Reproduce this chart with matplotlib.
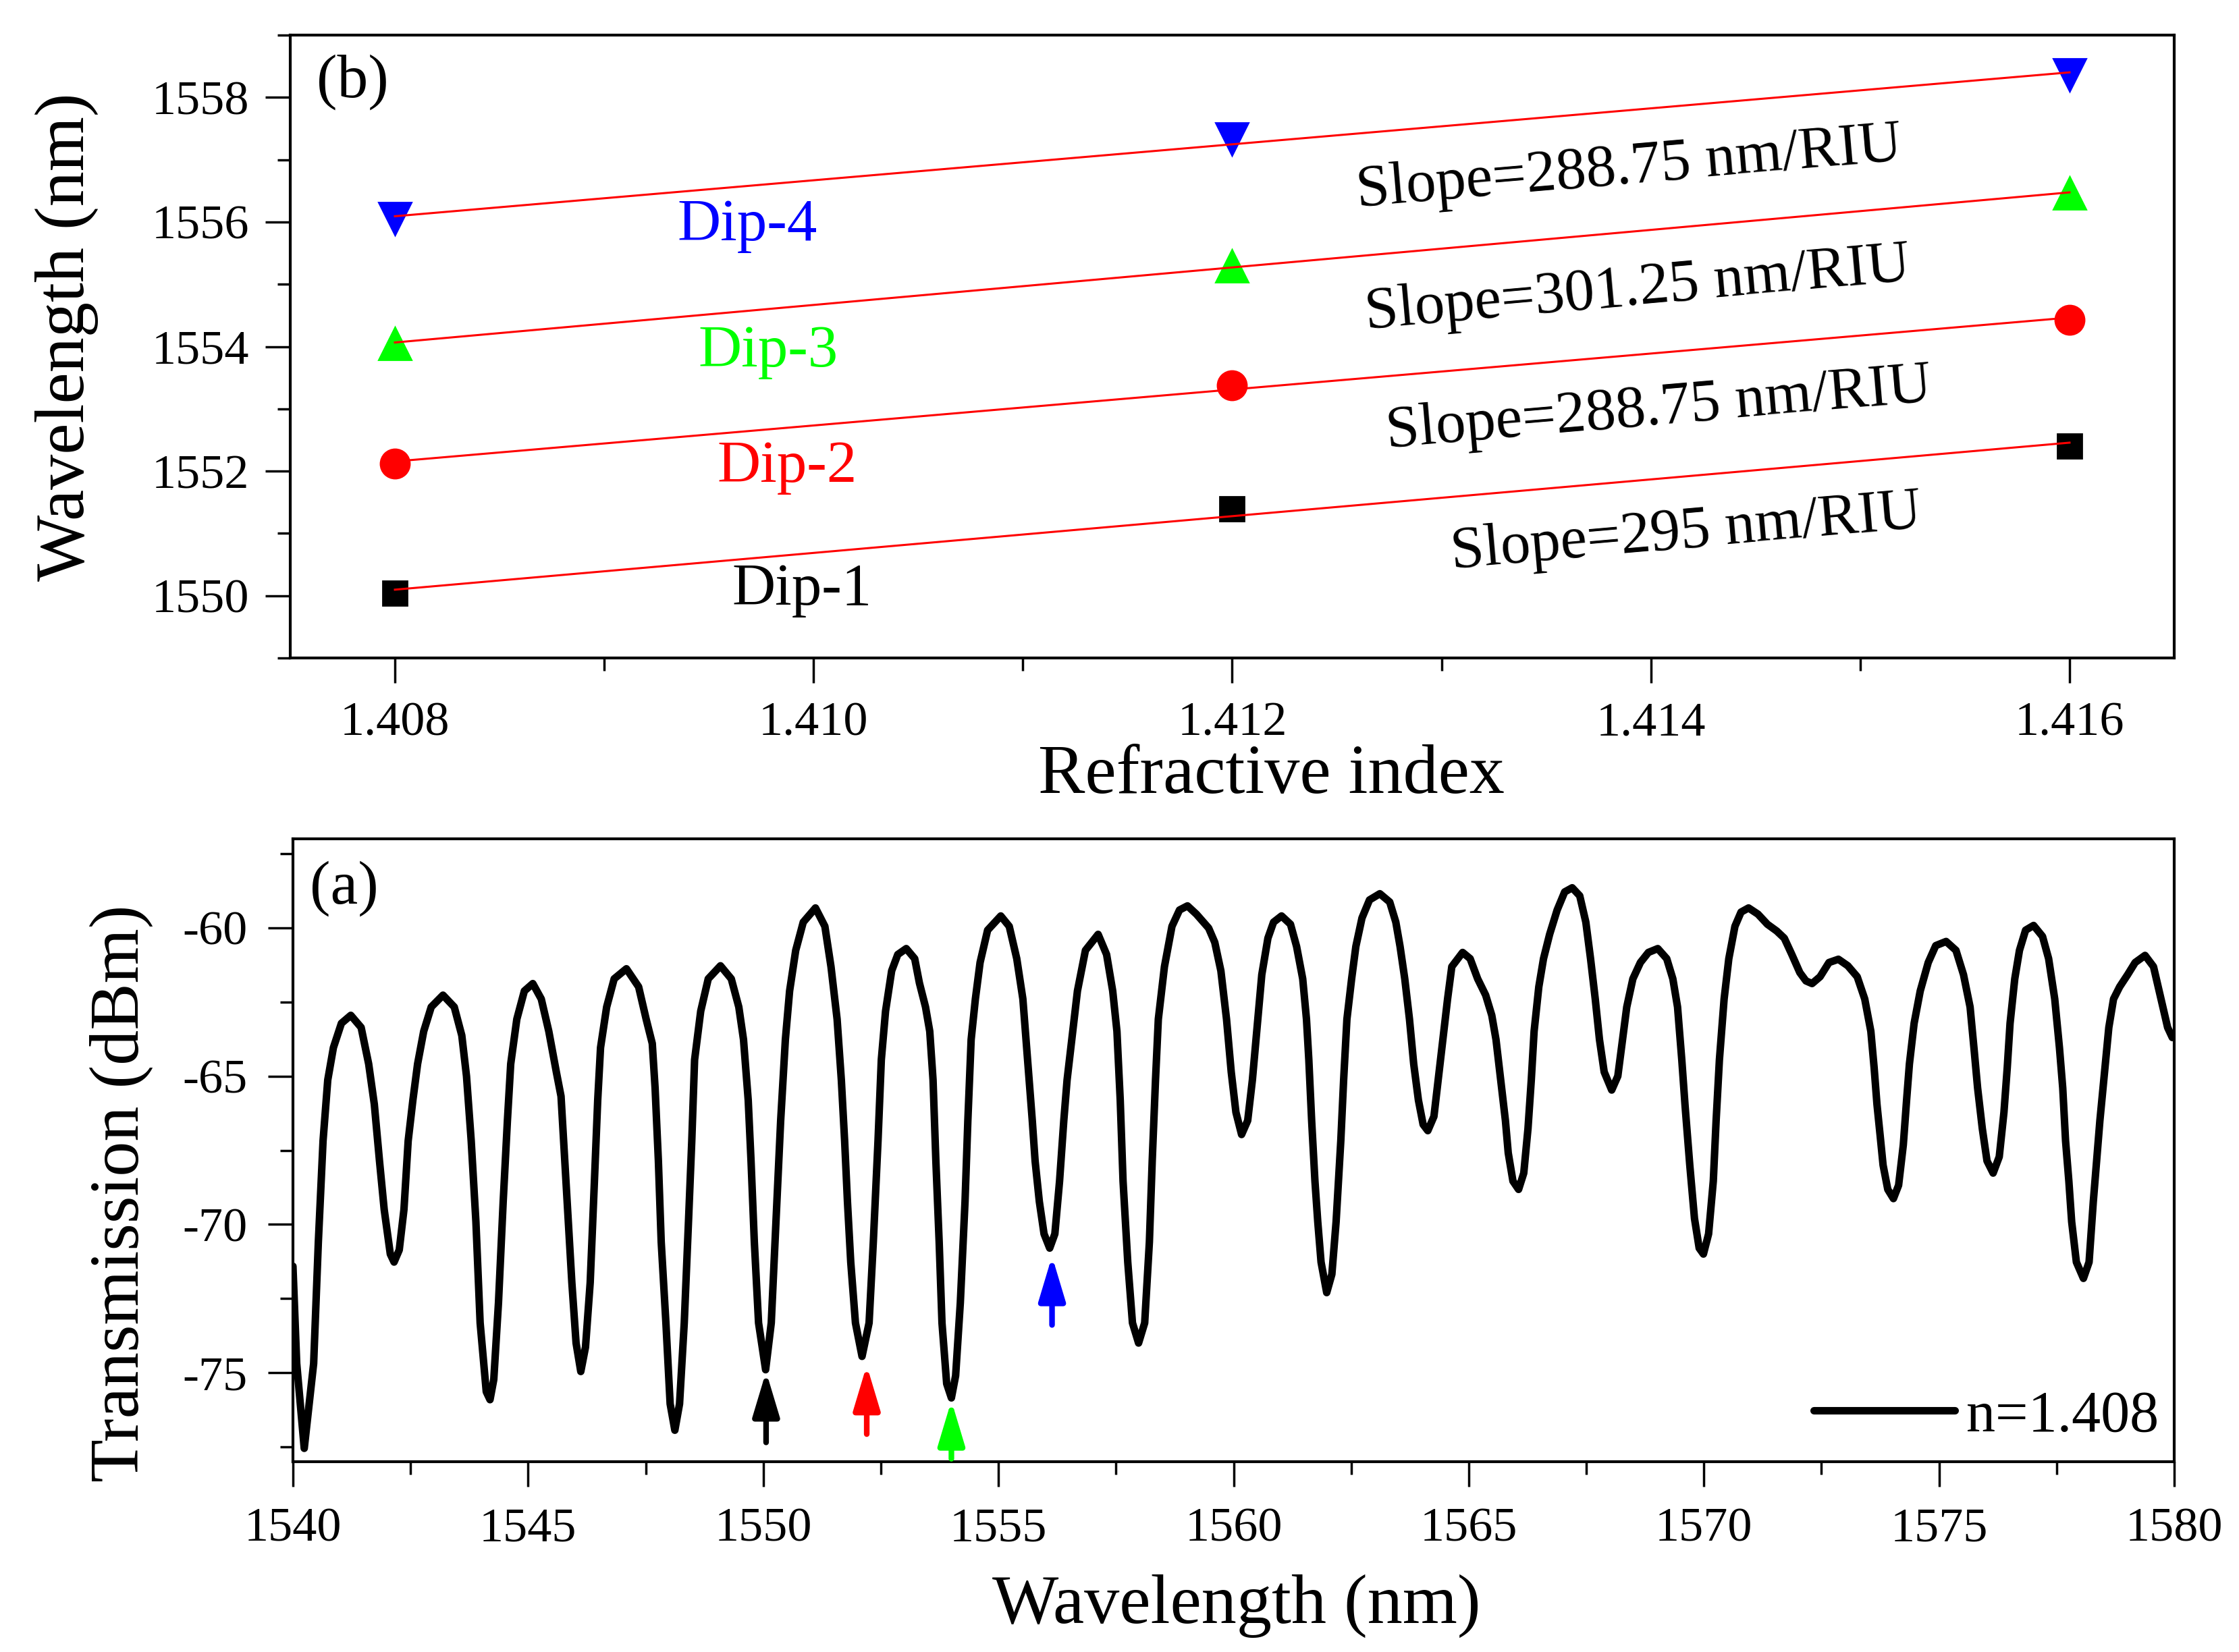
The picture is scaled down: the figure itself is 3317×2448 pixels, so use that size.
import numpy as np
import matplotlib
matplotlib.use("Agg")
import matplotlib.pyplot as plt
from matplotlib.ticker import MultipleLocator, FormatStrFormatter

plt.rcParams['font.family'] = ['Liberation Serif', 'DejaVu Serif']
plt.rcParams['axes.unicode_minus'] = False

# ---------------- data: panel (b) ----------------
ri = [1.408, 1.412, 1.416]
dip1 = [1550.04, 1551.39, 1552.40]
dip2 = [1552.12, 1553.38, 1554.43]
dip3 = [1554.05, 1555.30, 1556.46]
dip4 = [1556.05, 1557.33, 1558.36]
dip_names = ['Dip-1', 'Dip-2', 'Dip-3', 'Dip-4']
dip_colors = ['#000000', '#FF0000', '#00FF00', '#0000FF']
dip_markers = ['s', 'o', '^', 'v']
dip_msizes = [13, 15.5, 17, 17]
slope_texts = ['Slope=295 nm/RIU', 'Slope=288.75 nm/RIU',
               'Slope=301.25 nm/RIU', 'Slope=288.75 nm/RIU']
dip_label_x = [1.40961, 1.40954, 1.40945, 1.40935]
dip_label_y = [1549.86, 1551.83, 1553.68, 1555.71]
slope_label_x = [1.41305, 1.41274, 1.41264, 1.41260]
slope_label_y = [1550.44, 1552.38, 1554.29, 1556.25]

# ---------------- data: panel (a) ----------------
wl_nm = [
    1540.00, 1540.08, 1540.24, 1540.44, 1540.54, 1540.64, 1540.74, 1540.86, 1541.03, 1541.23,
    1541.45, 1541.61, 1541.73, 1541.84, 1541.94, 1542.07, 1542.15, 1542.26, 1542.36, 1542.45,
    1542.55, 1542.65, 1542.78, 1542.94, 1543.19, 1543.43, 1543.59, 1543.69, 1543.79, 1543.89,
    1543.98, 1544.11, 1544.19, 1544.27, 1544.37, 1544.47, 1544.56, 1544.63, 1544.76, 1544.92,
    1545.10, 1545.28, 1545.44, 1545.60, 1545.70, 1545.76, 1545.83, 1545.93, 1546.02, 1546.12,
    1546.22, 1546.32, 1546.41, 1546.48, 1546.54, 1546.67, 1546.83, 1547.09, 1547.35, 1547.51,
    1547.64, 1547.70, 1547.77, 1547.83, 1547.93, 1548.02, 1548.12, 1548.22, 1548.32, 1548.41,
    1548.48, 1548.54, 1548.67, 1548.83, 1549.09, 1549.32, 1549.48, 1549.58, 1549.68, 1549.74,
    1549.81, 1549.90, 1550.05,
    1550.17, 1550.27, 1550.37, 1550.47, 1550.56, 1550.69, 1550.85, 1551.11, 1551.31, 1551.44,
    1551.57, 1551.66, 1551.73, 1551.79, 1551.86, 1551.96, 1552.10, 1552.25, 1552.34, 1552.44,
    1552.51, 1552.60, 1552.73, 1552.86, 1553.04, 1553.22, 1553.32, 1553.45, 1553.54, 1553.61,
    1553.67, 1553.74, 1553.80, 1553.90, 1554.00, 1554.09, 1554.19, 1554.29, 1554.35, 1554.42,
    1554.51, 1554.61, 1554.77, 1555.05, 1555.23, 1555.39, 1555.52, 1555.62, 1555.72, 1555.78,
    1555.87, 1555.97, 1556.09, 1556.20, 1556.30, 1556.39, 1556.46, 1556.56, 1556.68, 1556.85,
    1557.12, 1557.30, 1557.43, 1557.52, 1557.59, 1557.65, 1557.75, 1557.85, 1557.98, 1558.11,
    1558.21, 1558.27, 1558.34, 1558.40, 1558.53, 1558.69, 1558.85, 1559.02, 1559.21, 1559.47,
    1559.60, 1559.73, 1559.85, 1559.95, 1560.05, 1560.17,
    1560.30, 1560.40, 1560.50, 1560.60, 1560.73, 1560.85, 1561.02, 1561.21, 1561.34, 1561.47,
    1561.55, 1561.60, 1561.66, 1561.73, 1561.79, 1561.86, 1561.98, 1562.09, 1562.18, 1562.28,
    1562.34, 1562.41, 1562.51, 1562.60, 1562.73, 1562.89, 1563.11, 1563.32, 1563.45, 1563.54,
    1563.64, 1563.74, 1563.83, 1563.93, 1564.03, 1564.13, 1564.26, 1564.35, 1564.45, 1564.55,
    1564.64, 1564.87, 1565.03, 1565.19, 1565.36, 1565.49, 1565.58, 1565.68, 1565.78, 1565.84,
    1565.94, 1566.06, 1566.17, 1566.26, 1566.33, 1566.39, 1566.49, 1566.59, 1566.72, 1566.88,
    1567.04, 1567.20, 1567.36, 1567.49, 1567.59, 1567.69, 1567.78, 1567.88, 1568.04, 1568.17,
    1568.27, 1568.36, 1568.49, 1568.65, 1568.82, 1569.02, 1569.21, 1569.34, 1569.44, 1569.53,
    1569.60, 1569.70, 1569.80, 1569.90, 1569.99,
    1570.10, 1570.20, 1570.26, 1570.33, 1570.43, 1570.53, 1570.66, 1570.79, 1570.95, 1571.15,
    1571.35, 1571.55, 1571.71, 1571.87, 1572.04, 1572.17, 1572.30, 1572.47, 1572.66, 1572.86,
    1573.06, 1573.26, 1573.42, 1573.55, 1573.62, 1573.68, 1573.75, 1573.81, 1573.91, 1574.03,
    1574.14, 1574.24, 1574.31, 1574.37, 1574.47, 1574.60, 1574.77, 1574.93, 1575.15, 1575.36,
    1575.52, 1575.66, 1575.75, 1575.82, 1575.92, 1576.02, 1576.15, 1576.28, 1576.38, 1576.45,
    1576.51, 1576.61, 1576.71, 1576.84, 1577.01, 1577.20, 1577.33, 1577.46, 1577.56, 1577.63,
    1577.69, 1577.76, 1577.82, 1577.92, 1578.07, 1578.19, 1578.28, 1578.35, 1578.42, 1578.52,
    1578.61, 1578.71, 1578.84, 1579.01, 1579.17, 1579.38, 1579.56, 1579.66, 1579.76, 1579.86,
    1579.96,
]
trans_dbm = [
    -71.41, -74.69, -77.55, -74.69, -70.59, -67.18, -65.13, -64.04, -63.22, -62.95,
    -63.36, -64.59, -65.95, -67.86, -69.50, -71.00, -71.27, -70.86, -69.50, -67.18,
    -65.81, -64.59, -63.49, -62.67, -62.27, -62.67, -63.63, -65.00, -67.18, -69.91,
    -73.32, -75.64, -75.91, -75.23, -72.64, -69.23, -66.50, -64.59, -63.08, -62.13,
    -61.88, -62.40, -63.49, -64.86, -65.68, -67.32, -69.23, -71.96, -74.00, -74.96,
    -74.14, -71.96, -68.54, -65.81, -64.04, -62.67, -61.72, -61.38, -61.99, -63.08,
    -63.90, -65.40, -67.86, -70.59, -73.32, -76.05, -76.94, -76.05, -73.32, -69.91,
    -67.18, -64.45, -62.81, -61.72, -61.28, -61.72, -62.67, -63.77, -65.81, -67.86,
    -70.59, -73.32, -74.90,
    -73.32, -69.91, -66.50, -63.77, -62.13, -60.76, -59.81, -59.33, -59.95, -61.31,
    -63.08, -65.13, -67.18, -69.23, -71.27, -73.32, -74.45, -73.32, -70.59, -67.18,
    -64.45, -62.81, -61.45, -60.90, -60.70, -61.04, -61.86, -62.67, -63.49, -65.13,
    -67.86, -70.59, -73.32, -75.37, -75.85, -75.10, -72.64, -69.23, -66.50, -63.77,
    -62.40, -61.17, -60.08, -59.60, -59.95, -61.04, -62.40, -64.45, -66.50, -67.86,
    -69.23, -70.32, -70.80, -70.32, -68.54, -66.50, -65.13, -63.77, -62.13, -60.76,
    -60.22, -60.90, -62.13, -63.49, -65.81, -68.54, -71.27, -73.32, -74.00, -73.32,
    -70.59, -67.86, -65.13, -63.08, -61.31, -59.95, -59.40, -59.26, -59.54, -60.01,
    -60.49, -61.45, -63.08, -64.86, -66.22, -66.97,
    -66.50, -65.13, -63.36, -61.58, -60.35, -59.81, -59.60, -59.88, -60.63, -61.72,
    -63.08, -64.45, -66.50, -68.54, -69.91, -71.27, -72.30, -71.68, -69.91, -67.18,
    -65.13, -63.08, -61.72, -60.63, -59.67, -59.06, -58.85, -59.13, -59.81, -60.63,
    -61.72, -63.08, -64.59, -65.81, -66.63, -66.84, -66.36, -65.13, -63.77, -62.40,
    -61.31, -60.83, -61.04, -61.72, -62.27, -62.95, -63.77, -65.13, -66.50, -67.59,
    -68.54, -68.82, -68.27, -66.77, -65.13, -63.49, -61.99, -61.04, -60.22, -59.40,
    -58.79, -58.65, -58.92, -59.81, -61.04, -62.40, -63.77, -64.86, -65.47, -65.00,
    -63.77, -62.67, -61.72, -61.17, -60.83, -60.70, -61.04, -61.72, -62.67, -64.45,
    -66.00, -68.00, -69.80, -70.80, -71.00,
    -70.32, -68.54, -66.50, -64.45, -62.40, -61.04, -59.95, -59.47, -59.33, -59.54,
    -59.88, -60.11, -60.35, -60.90, -61.51, -61.79, -61.88, -61.65, -61.17, -61.06,
    -61.28, -61.65, -62.40, -63.49, -64.72, -65.95, -67.04, -68.00, -68.82, -69.13,
    -68.68, -67.32, -65.81, -64.59, -63.22, -62.13, -61.17, -60.60, -60.46, -60.76,
    -61.58, -62.67, -64.18, -65.40, -66.77, -67.86, -68.27, -67.72, -66.22, -64.72,
    -63.22, -61.72, -60.76, -60.08, -59.92, -60.29, -61.04, -62.40, -64.04, -65.40,
    -67.18, -68.54, -69.91, -71.27, -71.82, -71.27, -69.23, -67.86, -66.50, -64.86,
    -63.36, -62.40, -61.99, -61.58, -61.17, -60.93, -61.31, -61.99, -62.67, -63.36,
    -63.70,
]
legend_label = 'n=1.408'

# arrows marking the tracked dips in panel (a)
arrow_x = [1550.06, 1552.20, 1554.00, 1556.14]
arrow_tip = [-74.96, -74.75, -75.94, -71.07]
arrow_tail = [-77.35, -77.07, -77.90, -73.39]
arrow_colors = ['#000000', '#FF0000', '#00FF00', '#0000FF']

# ---------------- figure ----------------
W, H = 3317, 2448
dpi = 200
fig = plt.figure(figsize=(W / dpi, H / dpi), dpi=dpi)

axb = fig.add_axes([430 / W, 1 - 975 / H, (3221 - 430) / W, (975 - 52) / H])
axa = fig.add_axes([434 / W, 1 - 2166 / H, (3221 - 434) / W, (2166 - 1243) / H])

TICK_FS = 26
LAB_FS = 37.5
ANN_FS = 32

def style_axes(ax, xpad, ypad):
    for s in ax.spines.values():
        s.set_linewidth(1.5)
    ax.tick_params(which='both', direction='out', top=False, right=False,
                   labelsize=TICK_FS, width=1.25)
    ax.tick_params(which='major', length=13.3)
    ax.tick_params(which='minor', length=7)
    ax.tick_params(axis='x', which='major', pad=xpad)
    ax.tick_params(axis='y', which='major', pad=ypad)

# ---- panel (b) ----
dips = [dip1, dip2, dip3, dip4]
for i, d in enumerate(dips):
    axb.plot(ri, d, linestyle='none', marker=dip_markers[i], color=dip_colors[i],
             markersize=dip_msizes[i], zorder=2)
    k, b = np.polyfit(ri, d, 1)
    xx = np.array([ri[0], ri[-1]])
    axb.plot(xx, k * xx + b, color='#FF0000', lw=1.1, zorder=3)
    axb.text(dip_label_x[i], dip_label_y[i], dip_names[i], color=dip_colors[i],
             fontsize=ANN_FS, ha='left', va='baseline')

axb.set_xlim(1.4075, 1.4165)
axb.set_ylim(1549, 1559)

# rotation of slope labels follows the fitted line direction on screen
fig.canvas.draw()
for i, d in enumerate(dips):
    k, b = np.polyfit(ri, d, 1)
    p0 = axb.transData.transform((ri[0], k * ri[0] + b))
    p1 = axb.transData.transform((ri[-1], k * ri[-1] + b))
    ang = np.degrees(np.arctan2(p1[1] - p0[1], p1[0] - p0[0]))
    axb.text(slope_label_x[i], slope_label_y[i], slope_texts[i], color='black',
             fontsize=ANN_FS, ha='left', va='baseline', rotation=ang,
             rotation_mode='anchor')

axb.xaxis.set_major_locator(MultipleLocator(0.002))
axb.xaxis.set_minor_locator(MultipleLocator(0.001))
axb.xaxis.set_major_formatter(FormatStrFormatter('%.3f'))
axb.yaxis.set_major_locator(MultipleLocator(2))
axb.yaxis.set_minor_locator(MultipleLocator(1))
style_axes(axb, 10, 8.5)
axb.set_xlabel('Refractive index', fontsize=LAB_FS)
axb.set_ylabel('Wavelength (nm)', fontsize=LAB_FS)
axb.xaxis.set_label_coords(0.5208, -0.2167)
axb.xaxis.label.set_va('baseline')
axb.yaxis.set_label_coords(-0.1096, 0.516)
axb.yaxis.label.set_va('baseline')
axb.text(0.0138, 0.9008, '(b)', transform=axb.transAxes, fontsize=33,
         ha='left', va='baseline')

# ---- panel (a) ----
line, = axa.plot(wl_nm, trans_dbm, color='black', lw=4.0,
                 solid_joinstyle='round', solid_capstyle='round', zorder=3)
for x, tip, tail, c in zip(arrow_x, arrow_tip, arrow_tail, arrow_colors):
    axa.annotate('', xy=(x, tip), xytext=(x, tail),
                 arrowprops=dict(arrowstyle='-|>,head_length=2.0,head_width=0.6',
                                 color=c, lw=3.0, shrinkA=0, shrinkB=0,
                                 mutation_scale=10), zorder=4)
axa.set_xlim(1540, 1580)
axa.set_ylim(-78, -57)
axa.xaxis.set_major_locator(MultipleLocator(5))
axa.xaxis.set_minor_locator(MultipleLocator(2.5))
axa.yaxis.set_major_locator(MultipleLocator(5))
axa.yaxis.set_minor_locator(MultipleLocator(2.5))
style_axes(axa, 11, 11)
axa.set_xlabel('Wavelength (nm)', fontsize=LAB_FS)
axa.set_ylabel('Transmission (dBm)', fontsize=LAB_FS)
axa.xaxis.set_label_coords(0.5016, -0.259)
axa.xaxis.label.set_va('baseline')
axa.yaxis.set_label_coords(-0.0822, 0.431)
axa.yaxis.label.set_va('baseline')
axa.text(0.0091, 0.896, '(a)', transform=axa.transAxes, fontsize=33,
         ha='left', va='baseline')
axa.legend([line], [legend_label], loc='lower right', bbox_to_anchor=(0.9917, 0.029),
           frameon=False, fontsize=31, handlelength=2.42, handletextpad=0.2,
           borderpad=0, borderaxespad=0)

fig.savefig('out.png', dpi=dpi)
